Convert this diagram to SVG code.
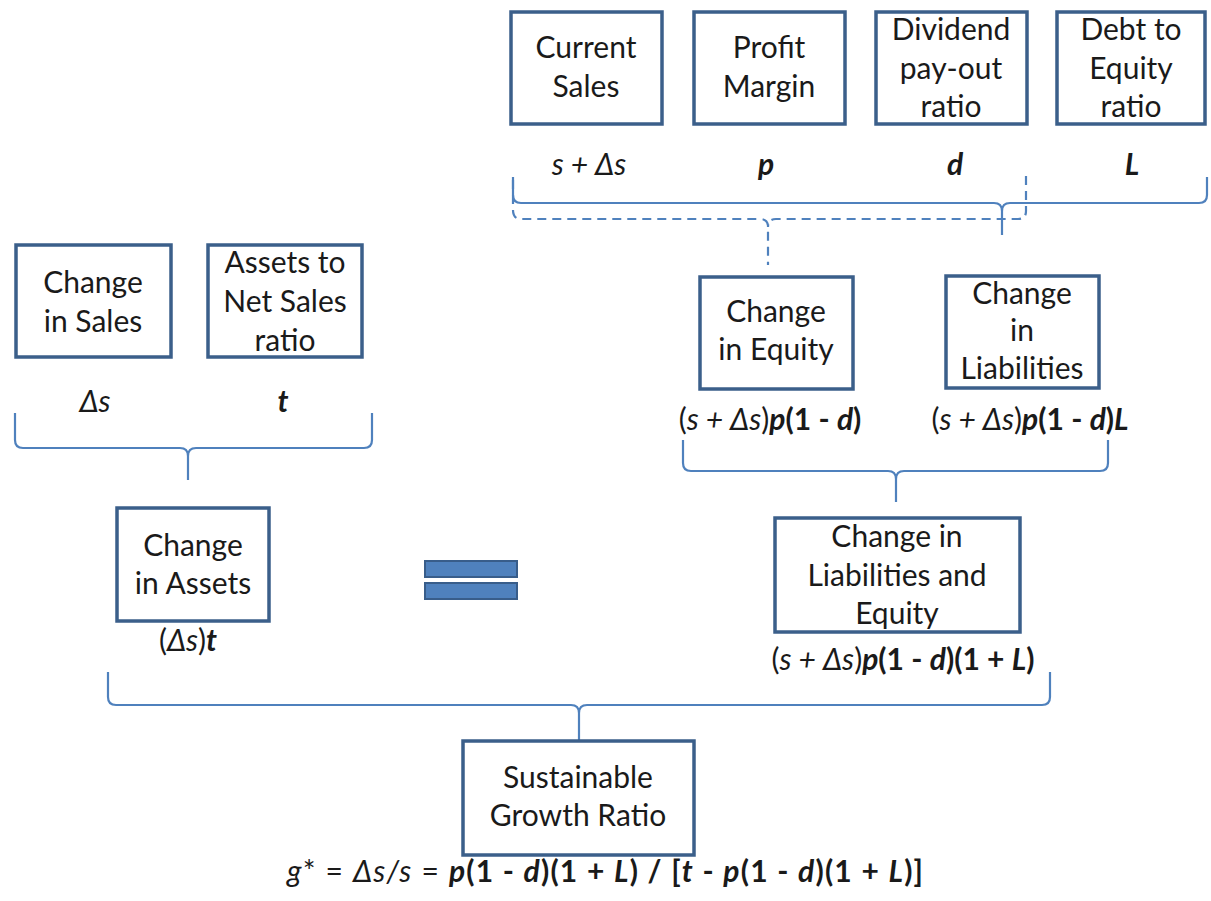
<svg xmlns="http://www.w3.org/2000/svg" width="1211" height="901" viewBox="0 0 1211 901">
<style>
.box{fill:#fff;stroke:#3b5f8a;stroke-width:3.5}
.br{fill:none;stroke:#4f81bd;stroke-width:2.2;stroke-linejoin:round}
.dash{stroke-dasharray:9 6}
text{font-family:Lato,"Noto Sans","DejaVu Sans",sans-serif;font-size:30px;fill:#1a1a1a;text-anchor:middle}
.i{font-style:italic}
.b{font-weight:bold}
.eq{fill:#4f81bd;stroke:#385d8a;stroke-width:2}
</style>
<rect width="1211" height="901" fill="#fff"/>
<g id="connectors">
<path class="br" d="M513,177 L513,195 Q513,203 521,203 L994,203 Q1002,203 1002,211 L1002,235 M1207,177 L1207,195 Q1207,203 1199,203 L1010,203 Q1002,203 1002,211"/>
<path class="br dash" d="M513,180 L513,210 Q513,219 521,219 L760,219 Q768,219 768,227 L768,265 M1026,176 L1026,211 Q1026,219 1018,219 L776,219 Q768,219 768,227"/>
<path class="br" d="M15,413 L15,440 Q15,448 23,448 L180,448 Q188,448 188,456 L188,480 M372,413 L372,440 Q372,448 364,448 L196,448 Q188,448 188,456"/>
<path class="br" d="M683,440 L683,463 Q683,471 691,471 L888,471 Q896,471 896,479 L896,502 M1108,440 L1108,463 Q1108,471 1100,471 L904,471 Q896,471 896,479"/>
<path class="br" d="M108,672 L108,697 Q108,705 116,705 L571,705 Q579,705 579,713 L579,740 M1050,672 L1050,697 Q1050,705 1042,705 L587,705 Q579,705 579,713"/>
</g>
<g id="current-sales">
<rect class="box" x="511" y="12" width="151" height="112"/>
<text x="586" y="58">Current</text><text x="586" y="97">Sales</text>
<text x="589" y="175" class="i">s + Δs</text>
</g>
<g id="profit-margin">
<rect class="box" x="694" y="12" width="151" height="112"/>
<text x="769" y="58">Profit</text><text x="769" y="97">Margin</text>
<text x="766" y="175" class="i b">p</text>
</g>
<g id="dividend">
<rect class="box" x="876" y="12" width="151" height="112"/>
<text x="951" y="40">Dividend</text><text x="951" y="79">pay-out</text><text x="951" y="117">ratio</text>
<text x="955" y="175" class="i b">d</text>
</g>
<g id="debt-equity">
<rect class="box" x="1057" y="12" width="148" height="112"/>
<text x="1131" y="40">Debt to</text><text x="1131" y="79">Equity</text><text x="1131" y="117">ratio</text>
<text x="1132" y="175" class="i b">L</text>
</g>
<g id="change-in-sales">
<rect class="box" x="16" y="245" width="155" height="112"/>
<text x="93" y="293">Change</text><text x="93" y="332">in Sales</text>
<text x="95" y="412" class="i">Δs</text>
</g>
<g id="assets-net-sales">
<rect class="box" x="208" y="245" width="154" height="112"/>
<text x="285" y="273">Assets to</text><text x="285" y="312">Net Sales</text><text x="285" y="351">ratio</text>
<text x="283" y="412" class="i b">t</text>
</g>
<g id="change-in-equity">
<rect class="box" x="700" y="277" width="153" height="112"/>
<text x="776" y="322">Change</text><text x="776" y="360">in Equity</text>
<text x="770" y="430">(<tspan class="i">s + Δs</tspan>)<tspan class="i b">p</tspan><tspan class="b">(1 - </tspan><tspan class="i b">d</tspan><tspan class="b">)</tspan></text>
</g>
<g id="change-in-liabilities">
<rect class="box" x="946" y="276" width="153" height="112"/>
<text x="1022" y="304">Change</text><text x="1022" y="341">in</text><text x="1022" y="379">Liabilities</text>
<text x="1030" y="430">(<tspan class="i">s + Δs</tspan>)<tspan class="i b">p</tspan><tspan class="b">(1 - </tspan><tspan class="i b">d</tspan><tspan class="b">)</tspan><tspan class="i b">L</tspan></text>
</g>
<g id="change-in-assets">
<rect class="box" x="117" y="508" width="152" height="113"/>
<text x="193" y="556">Change</text><text x="193" y="594">in Assets</text>
<text x="188" y="651">(<tspan class="i">Δs</tspan>)<tspan class="i b">t</tspan></text>
</g>
<g id="equals">
<rect class="eq" x="425" y="561" width="92" height="16"/>
<rect class="eq" x="425" y="583" width="92" height="16"/>
</g>
<g id="change-liab-equity">
<rect class="box" x="775" y="518" width="245" height="114"/>
<text x="897" y="547">Change in</text><text x="897" y="586">Liabilities and</text><text x="897" y="624">Equity</text>
<text x="903" y="670" font-size="31">(<tspan class="i">s + Δs</tspan>)<tspan class="i b">p</tspan><tspan class="b">(1 - </tspan><tspan class="i b">d</tspan><tspan class="b">)(1 + </tspan><tspan class="i b">L</tspan><tspan class="b">)</tspan></text>
</g>
<g id="sustainable-growth">
<rect class="box" x="463" y="741" width="231" height="114"/>
<text x="578" y="788">Sustainable</text><text x="578" y="826">Growth Ratio</text>
<text x="605" y="882" font-size="31" textLength="636" lengthAdjust="spacing"><tspan class="i">g</tspan>* = <tspan class="i">Δs/s</tspan> = <tspan class="i b">p</tspan><tspan class="b">(1 - </tspan><tspan class="i b">d</tspan><tspan class="b">)(1 + </tspan><tspan class="i b">L</tspan><tspan class="b">) / [</tspan><tspan class="i b">t</tspan><tspan class="b"> - </tspan><tspan class="i b">p</tspan><tspan class="b">(1 - </tspan><tspan class="i b">d</tspan><tspan class="b">)(1 + </tspan><tspan class="i b">L</tspan><tspan class="b">)]</tspan></text>
</g>
</svg>
